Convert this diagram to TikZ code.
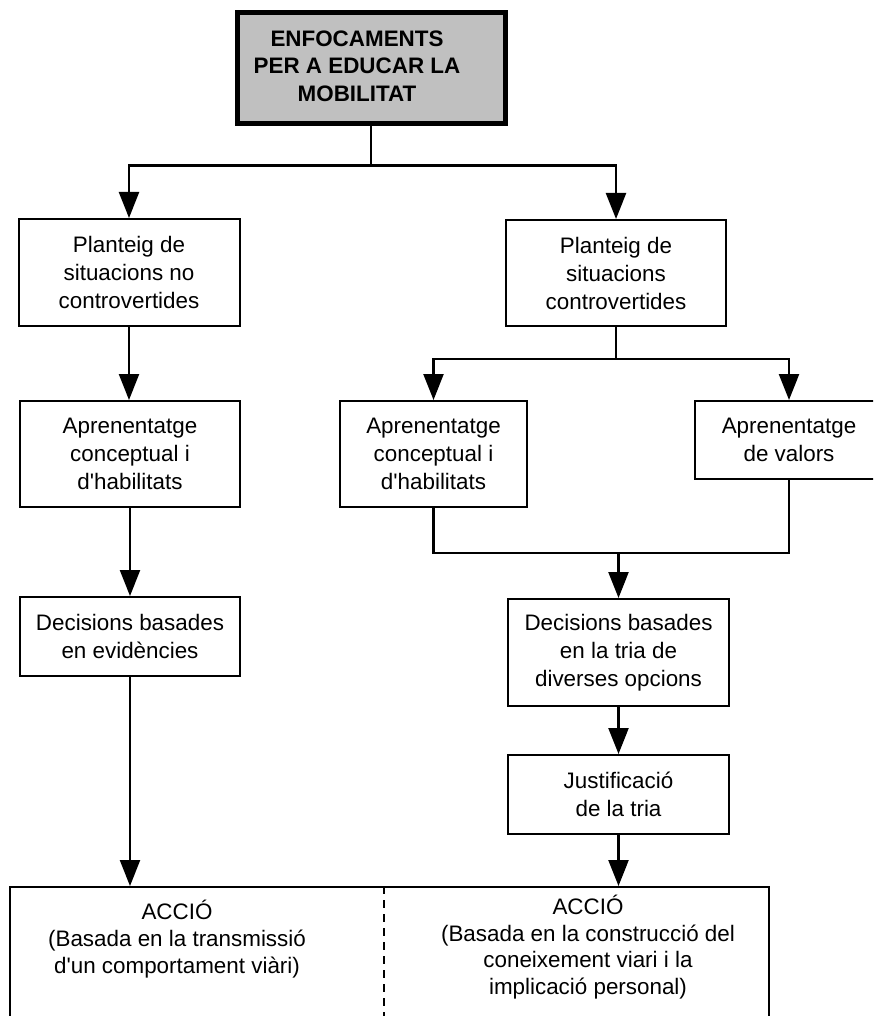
\documentclass[tikz,border=0pt]{standalone}
\usepackage{fontspec}
\setmainfont{Liberation Sans}
\usetikzlibrary{arrows.meta}
\definecolor{titlegray}{RGB}{192,192,192}

\begin{document}
\begin{tikzpicture}[x=0.5pt,y=-0.5pt,
    box/.style={draw,line width=1pt,align=center,inner sep=0pt,font=\fontsize{11.2}{14}\selectfont},
    accText/.style={align=center,inner sep=0pt,font=\fontsize{11.2}{13.3}\selectfont},
    arr/.style={line width=1.2pt,-{Triangle[length=13pt,width=10pt]}},
    link/.style={line width=1.2pt}]
    % Fix the page
    \useasboundingbox (0,0) rectangle (873,1016);
    \clip (0,0) rectangle (873,1016);

    % Draw the title box
    \node[draw,line width=2.5pt,fill=titlegray,inner sep=0pt,minimum width=134pt,minimum height=55.5pt,
          font=\fontsize{11.2}{13.75}\selectfont\bfseries] (title) at (371,68.5)
          {\hspace*{-14pt}\begin{tabular}{@{}c@{}}ENFOCAMENTS\\PER A EDUCAR LA\\MOBILITAT\end{tabular}};

    % Left column
    \node[box,minimum width=110.5pt,minimum height=53.5pt] (L1) at (129,272.5) {Planteig de\\situacions no\\controvertides};
    \node[box,minimum width=110pt,minimum height=53pt] (L2) at (130,454) {Aprenentatge\\conceptual i\\d\textquotesingle habilitats};
    \node[box,minimum width=110pt,minimum height=39.5pt] (L3) at (130,636.5) {Decisions basades\\en evidències};

    % Right column
    \node[box,minimum width=110pt,minimum height=53pt] (R1) at (616,273) {Planteig de\\situacions\\controvertides};
    \node[box,minimum width=93.5pt,minimum height=53pt] (R2a) at (433.5,454) {Aprenentatge\\conceptual i\\d\textquotesingle habilitats};
    \node[box,minimum width=94pt,minimum height=39pt] (R2b) at (789,440) {Aprenentatge\\de valors};
    \node[box,minimum width=110.5pt,minimum height=53.5pt] (R3) at (618.5,652.5) {Decisions basades\\en la tria de\\diverses opcions};
    \node[box,minimum width=110.5pt,minimum height=39.5pt] (R4) at (618.5,794.5) {Justificació\\de la tria};

    % Draw the action box
    \node[box,minimum width=379.5pt,minimum height=66.5pt] (acc) at (389.5,953.5) {};
    \node[accText] (accL) at (177,939) {ACCIÓ\\(Basada en la transmissió\\d\textquotesingle un comportament viàri)};
    \node[accText] (accR) at (588,947) {ACCIÓ\\(Basada en la construcció del\\coneixement viari i la\\implicació personal)};
    \path (acc.north) ++(-5.5,0) coordinate (dtop);
    \path (acc.south) ++(-5.5,0) coordinate (dbot);
    \draw[line width=0.8pt,dash pattern=on 4pt off 3pt] (dtop) -- (dbot);

    % Connectors
    \path (title.south) ++(0,39) coordinate (tsplit);
    \draw[link] (title.south) -- (tsplit);
    \draw[arr] (tsplit) -| (L1.north);
    \draw[arr] (tsplit) -| (R1.north);

    \draw[arr] (L1.south) -- (L1.south |- L2.north);
    \draw[arr] (L2.south) -- (L2.south |- L3.north);
    \draw[arr] (L3.south) -- (L3.south |- acc.north);

    \path (R1.south) ++(0,32) coordinate (rsplit);
    \draw[link] (R1.south) -- (rsplit);
    \draw[arr] (rsplit) -| (R2a.north);
    \draw[arr] (rsplit) -| (R2b.north);

    \path (R2a.south) ++(0,45) coordinate (rjoin);
    \draw[link] (R2a.south) -- (rjoin) -| (R2b.south);
    \draw[arr] (rjoin -| R3.north) -- (R3.north);
    \draw[arr] (R3.south) -- (R4.north);
    \draw[arr] (R4.south) -- (R4.south |- acc.north);
\end{tikzpicture}
\end{document}
